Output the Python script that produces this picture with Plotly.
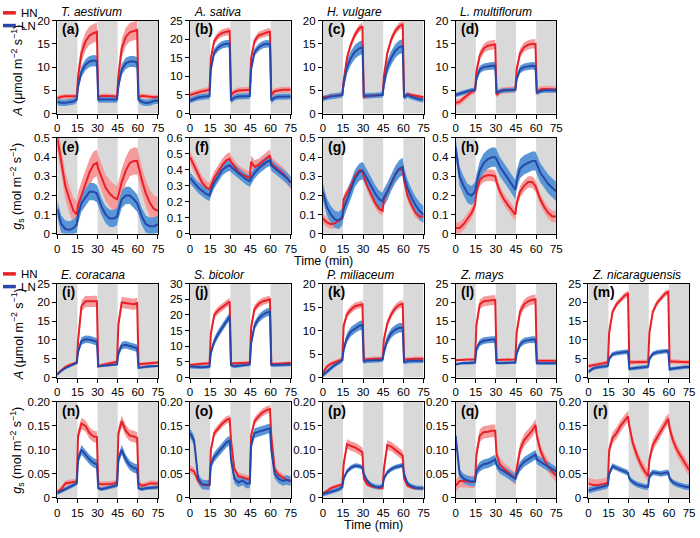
import plotly.graph_objects as go

W, H = 700, 538

# ---------------- data ----------------
T = [0, 3, 6, 9, 12, 14.5, 15.5, 18, 21, 24, 27, 29.5, 30.5, 33, 36, 39, 42, 44.5,
     45.5, 48, 51, 54, 57, 59.5, 60.5, 63, 66, 69, 72, 75]
X_TICKS = [0, 15, 30, 45, 60, 75]
DARK_PERIODS = [(0, 15), (30, 45), (60, 75)]

species_top = ["T. aestivum", "A. sativa", "H. vulgare", "L. multiflorum"]
species_bot = ["E. coracana", "S. bicolor", "P. miliaceum", "Z. mays", "Z. nicaraguensis"]

# (a) T. aestivum, A
a_hn = [3.3, 3.6, 3.7, 3.7, 3.7, 3.7, 8, 13, 15.5, 16.8, 17.3, 17.6, 3.5, 3.8, 3.8, 3.8, 3.7, 3.6,
        8, 14, 16.5, 17.5, 17.8, 18, 3.5, 3.8, 3.7, 3.6, 3.5, 3.6]
a_ln = [2.5, 2.3, 2.3, 2.5, 2.6, 3, 6, 9, 10.5, 11.2, 11.4, 11.3, 3, 3.1, 3, 3, 3, 3,
        6, 9.5, 10.8, 11.2, 11.2, 11, 3, 2.5, 2.3, 2.4, 2.7, 2.8]
a_hn_se = [0.5, 2.0, 0.5, 2.0, 0.5]
a_ln_se = [0.7, 1.2, 0.7, 1.2, 0.7]
# (b) A. sativa, A
b_hn = [5, 5.4, 5.7, 6, 6.2, 6.4, 15, 19.5, 21, 21.7, 22, 22.2, 5, 5.8, 6.2, 6.3, 6.4, 6.4,
        15, 19.5, 21, 21.5, 21.8, 22, 5, 6, 6.3, 6.4, 6.4, 6.4]
b_ln = [3.5, 4, 4.3, 4.5, 4.6, 4.7, 12, 16.5, 17.8, 18.5, 18.8, 18.8, 3.5, 4.3, 4.6, 4.7, 4.7, 4.7,
        12, 16.5, 17.8, 18.5, 18.8, 18.7, 3.5, 4.3, 4.5, 4.6, 4.6, 4.6]
b_hn_se = [0.8, 1.0, 0.8, 1.0, 0.8]
b_ln_se = [0.8, 1.0, 0.8, 1.0, 0.8]
# (c) H. vulgare, A
c_hn = [3.5, 3.6, 3.7, 3.8, 3.9, 4, 7, 12, 15, 17, 18.3, 18.8, 3.5, 3.8, 3.9, 3.9, 4, 4,
        8, 13, 16, 17.8, 18.8, 19.2, 3.5, 4.2, 4, 3.8, 3.6, 3.5]
c_ln = [3.2, 3.5, 3.7, 3.8, 3.9, 4, 6.5, 10, 12, 13.3, 14, 14.3, 3.8, 3.8, 3.9, 3.9, 4, 4,
        6.5, 10, 12, 13.5, 14.3, 14.5, 3.5, 4, 3.6, 3.3, 3.1, 3]
c_hn_se = [0.4, 0.8, 0.4, 0.8, 0.4]
c_ln_se = [0.6, 1.5, 0.6, 1.5, 0.6]
# (d) L. multiflorum, A
d_hn = [2.3, 2.5, 3.3, 4, 4.7, 5, 9, 12.5, 14, 14.6, 14.8, 14.9, 4, 4.8, 5, 5.1, 5.1, 5.2,
        9.5, 13, 14.3, 14.8, 15, 15, 4.5, 5.2, 5.3, 5.3, 5.2, 5.2]
d_ln = [4, 4.3, 4.6, 4.8, 5, 5.1, 7.5, 9.5, 10, 10.2, 10.3, 10.3, 4.5, 4.8, 5, 5, 5.1, 5.1,
        7.5, 9.5, 10, 10.2, 10.3, 10.2, 4.5, 4.8, 5, 5, 5, 5]
d_hn_se = [0.7, 1.0, 0.7, 1.0, 0.7]
d_ln_se = [0.5, 0.8, 0.5, 0.8, 0.5]
# (e) T. aestivum, gs
e_hn = [0.5, 0.38, 0.25, 0.18, 0.12, 0.1, 0.15, 0.2, 0.26, 0.32, 0.36, 0.37, 0.34, 0.29, 0.24, 0.21, 0.19, 0.18,
        0.2, 0.27, 0.33, 0.37, 0.38, 0.38, 0.35, 0.28, 0.21, 0.16, 0.13, 0.12]
e_ln = [0.13, 0.05, 0.025, 0.02, 0.03, 0.05, 0.1, 0.16, 0.19, 0.22, 0.22, 0.21, 0.19, 0.14, 0.1, 0.08, 0.08, 0.09,
        0.12, 0.18, 0.2, 0.2, 0.18, 0.16, 0.14, 0.09, 0.05, 0.04, 0.04, 0.05]
e_hn_se = [0.07, 0.07, 0.07, 0.07, 0.07]
e_ln_se = [0.045, 0.045, 0.045, 0.045, 0.045]
# (f) A. sativa, gs
f_hn = [0.48, 0.43, 0.37, 0.32, 0.29, 0.28, 0.3, 0.35, 0.39, 0.43, 0.46, 0.47, 0.45, 0.42, 0.39, 0.37, 0.36, 0.35,
        0.45, 0.42, 0.43, 0.45, 0.47, 0.49, 0.44, 0.42, 0.4, 0.38, 0.35, 0.32]
f_ln = [0.35, 0.32, 0.29, 0.27, 0.25, 0.24, 0.27, 0.32, 0.36, 0.4, 0.42, 0.43, 0.42, 0.4, 0.38, 0.36, 0.34, 0.33,
        0.35, 0.38, 0.41, 0.43, 0.45, 0.46, 0.43, 0.41, 0.39, 0.37, 0.35, 0.32]
f_hn_se = [0.04, 0.04, 0.04, 0.04, 0.04]
f_ln_se = [0.035, 0.035, 0.035, 0.035, 0.035]
# (g) H. vulgare, gs
g_hn = [0.08, 0.06, 0.05, 0.055, 0.07, 0.08, 0.18, 0.21, 0.25, 0.3, 0.33, 0.33, 0.3, 0.25, 0.2, 0.16, 0.13, 0.12,
        0.18, 0.22, 0.27, 0.31, 0.34, 0.33, 0.28, 0.2, 0.15, 0.11, 0.09, 0.09]
g_ln = [0.22, 0.14, 0.1, 0.075, 0.07, 0.09, 0.13, 0.18, 0.23, 0.29, 0.32, 0.33, 0.32, 0.29, 0.25, 0.21, 0.18, 0.17,
        0.19, 0.22, 0.27, 0.31, 0.34, 0.35, 0.3, 0.24, 0.19, 0.15, 0.12, 0.1]
g_hn_se = [0.025, 0.025, 0.025, 0.025, 0.025]
g_ln_se = [0.045, 0.045, 0.045, 0.045, 0.045]
# (h) L. multiflorum, gs
h_hn = [0.03, 0.03, 0.05, 0.08, 0.11, 0.15, 0.22, 0.28, 0.3, 0.305, 0.305, 0.3, 0.27, 0.22, 0.18, 0.15, 0.12, 0.1,
        0.16, 0.22, 0.25, 0.27, 0.27, 0.25, 0.23, 0.18, 0.14, 0.11, 0.09, 0.09]
h_ln = [0.45, 0.3, 0.25, 0.21, 0.2, 0.22, 0.26, 0.33, 0.37, 0.39, 0.4, 0.4, 0.39, 0.35, 0.32, 0.29, 0.26, 0.23,
        0.28, 0.34, 0.36, 0.37, 0.38, 0.38, 0.36, 0.32, 0.29, 0.26, 0.24, 0.22]
h_hn_se = [0.03, 0.03, 0.03, 0.03, 0.03]
h_ln_se = [0.05, 0.05, 0.05, 0.05, 0.05]
# (i) E. coracana, A
i_hn = [1, 2, 2.8, 3.3, 3.7, 4, 10, 19, 20.3, 20.2, 20.3, 20.3, 3, 3.3, 3.6, 3.8, 4, 4.2,
        14, 20, 19.8, 19.7, 19.5, 19.8, 3.5, 3.6, 3.7, 3.8, 3.9, 4]
i_ln = [0.8, 1.8, 2.5, 3.1, 3.5, 3.9, 7, 9.7, 10.2, 10.1, 9.8, 9.5, 3, 3.1, 3.2, 3.3, 3.4, 3.5,
        6.5, 8.5, 8.7, 8.4, 8, 7.8, 2.6, 2.8, 2.9, 3, 3, 3.1]
i_hn_se = [0.5, 1.5, 0.5, 1.5, 0.5]
i_ln_se = [0.3, 1.0, 0.3, 1.0, 0.3]
# (j) S. bicolor, A
j_hn = [4, 4.2, 4.3, 4.4, 4.5, 4.6, 14, 20, 21.5, 22.5, 23.5, 24.3, 4.5, 4.5, 4.5, 4.6, 4.7, 4.8,
        16, 22, 23.5, 24.3, 24.8, 25, 4.3, 4.3, 4.4, 4.5, 4.6, 4.7]
j_ln = [3.5, 3.4, 3.3, 3.3, 3.4, 3.5, 8, 11.5, 14, 16, 18, 19.5, 4, 3.6, 3.8, 4, 4.1, 4.2,
        11, 16.5, 18.8, 20, 20.8, 21, 4, 4, 4, 4.1, 4.1, 4.2]
j_hn_se = [0.5, 1.2, 0.5, 1.2, 0.5]
j_ln_se = [0.6, 1.3, 0.6, 1.3, 0.6]
# (k) P. miliaceum, A
k_hn = [1, 2.3, 2.9, 3.3, 3.6, 3.8, 11, 13.5, 14.5, 15.2, 15.5, 15.6, 3.8, 3.9, 4, 4, 4, 4,
        8, 11.5, 13.5, 14.8, 15.5, 15.7, 3.8, 3.9, 4, 4, 4, 4]
k_ln = [0.5, 1.3, 2, 2.7, 3.2, 3.7, 6, 8.5, 9.8, 10.5, 11, 11.2, 3.4, 3.6, 3.7, 3.7, 3.7, 3.8,
        5.5, 8, 9.5, 10.2, 10.6, 10.6, 3.3, 3.5, 3.6, 3.6, 3.6, 3.6]
k_hn_se = [0.5, 0.8, 0.5, 0.8, 0.5]
k_ln_se = [0.5, 1.0, 0.5, 1.0, 0.5]
# (l) Z. mays, A
l_hn = [4.6, 4.7, 4.8, 4.8, 4.8, 4.8, 14, 19.5, 20.3, 20.5, 20.6, 20.7, 4.7, 4.7, 4.8, 4.8, 4.8, 4.8,
        12, 17.5, 19.5, 20.3, 20.7, 20.8, 4.5, 4.5, 4.5, 4.5, 4.5, 4.5]
l_ln = [3.5, 3.8, 3.9, 3.9, 3.9, 4, 7.5, 9.3, 9.8, 10, 10.1, 10.1, 3.9, 3.9, 3.9, 3.9, 4, 4,
        6.5, 8.8, 9.7, 10, 10.1, 10.1, 3.8, 3.8, 3.8, 3.8, 3.8, 3.8]
l_hn_se = [0.3, 1.3, 0.3, 1.3, 0.3]
l_ln_se = [0.4, 0.9, 0.4, 0.9, 0.4]
# (m) Z. nicaraguensis, A
m_hn = [3, 3.2, 3.4, 3.6, 3.8, 4, 12, 17.5, 19.5, 20.8, 21.8, 22.3, 4, 4.1, 4.1, 4.2, 4.2, 4.2,
        12, 17.5, 19.8, 21.2, 22.3, 22.8, 4.3, 4.3, 4.2, 4.1, 4.1, 4.1]
m_ln = [1.5, 2.3, 2.7, 2.9, 3, 3.1, 5, 6.2, 6.5, 6.7, 6.8, 6.9, 2.3, 2.5, 2.6, 2.7, 2.8, 2.9,
        5, 6.3, 6.7, 6.9, 7, 7, 2.2, 2.4, 2.6, 2.7, 2.8, 2.8]
m_hn_se = [0.6, 0.8, 0.6, 0.8, 0.6]
m_ln_se = [0.5, 0.6, 0.5, 0.6, 0.5]
# (n) E. coracana, gs
n_hn = [0.012, 0.018, 0.03, 0.032, 0.033, 0.034, 0.13, 0.155, 0.15, 0.135, 0.128, 0.127, 0.03, 0.028, 0.028, 0.029, 0.03, 0.033,
        0.135, 0.16, 0.14, 0.13, 0.128, 0.125, 0.03, 0.025, 0.027, 0.03, 0.03, 0.03]
n_ln = [0.01, 0.014, 0.018, 0.022, 0.026, 0.03, 0.08, 0.1, 0.09, 0.08, 0.073, 0.07, 0.02, 0.018, 0.02, 0.022, 0.024, 0.026,
        0.08, 0.1, 0.08, 0.068, 0.062, 0.06, 0.02, 0.018, 0.02, 0.021, 0.022, 0.022]
n_hn_se = [0.006, 0.012, 0.006, 0.012, 0.006]
n_ln_se = [0.004, 0.01, 0.004, 0.01, 0.004]
# (o) S. bicolor, gs
o_hn = [0.06, 0.055, 0.035, 0.027, 0.026, 0.026, 0.1, 0.135, 0.145, 0.155, 0.162, 0.165, 0.12, 0.06, 0.045, 0.042, 0.04, 0.038,
        0.13, 0.16, 0.17, 0.178, 0.183, 0.185, 0.13, 0.06, 0.048, 0.042, 0.038, 0.035]
o_ln = [0.135, 0.12, 0.04, 0.028, 0.027, 0.027, 0.07, 0.085, 0.095, 0.105, 0.115, 0.12, 0.08, 0.04, 0.032, 0.036, 0.03, 0.03,
        0.11, 0.135, 0.138, 0.14, 0.143, 0.145, 0.1, 0.05, 0.04, 0.035, 0.037, 0.035]
o_hn_se = [0.008, 0.008, 0.008, 0.008, 0.008]
o_ln_se = [0.01, 0.01, 0.01, 0.01, 0.01]
# (p) P. miliaceum, gs
p_hn = [0.008, 0.015, 0.02, 0.023, 0.026, 0.028, 0.07, 0.112, 0.108, 0.105, 0.1, 0.095, 0.04, 0.028, 0.024, 0.022, 0.021, 0.02,
        0.06, 0.11, 0.107, 0.1, 0.094, 0.088, 0.04, 0.025, 0.022, 0.02, 0.02, 0.02]
p_ln = [0.008, 0.01, 0.012, 0.015, 0.018, 0.022, 0.04, 0.055, 0.063, 0.067, 0.066, 0.063, 0.05, 0.035, 0.027, 0.023, 0.022, 0.024,
        0.04, 0.053, 0.06, 0.064, 0.066, 0.068, 0.05, 0.03, 0.024, 0.021, 0.02, 0.02]
p_hn_se = [0.004, 0.01, 0.004, 0.01, 0.004]
p_ln_se = [0.005, 0.005, 0.005, 0.005, 0.005]
# (q) Z. mays, gs
q_hn = [0.025, 0.035, 0.035, 0.034, 0.033, 0.034, 0.09, 0.13, 0.137, 0.138, 0.14, 0.14, 0.09, 0.07, 0.06, 0.053, 0.046, 0.04,
        0.06, 0.1, 0.12, 0.13, 0.14, 0.152, 0.13, 0.1, 0.08, 0.065, 0.055, 0.045]
q_ln = [0.13, 0.05, 0.04, 0.036, 0.034, 0.034, 0.055, 0.065, 0.07, 0.072, 0.076, 0.08, 0.07, 0.06, 0.055, 0.05, 0.045, 0.04,
        0.05, 0.065, 0.075, 0.08, 0.085, 0.09, 0.08, 0.075, 0.07, 0.065, 0.06, 0.055]
q_hn_se = [0.013, 0.013, 0.013, 0.013, 0.013]
q_ln_se = [0.01, 0.01, 0.01, 0.01, 0.01]
# (r) Z. nicaraguensis, gs
r_hn = [0.03, 0.027, 0.026, 0.027, 0.029, 0.032, 0.1, 0.125, 0.135, 0.15, 0.162, 0.17, 0.15, 0.115, 0.09, 0.07, 0.055, 0.045,
        0.08, 0.11, 0.125, 0.14, 0.155, 0.165, 0.145, 0.12, 0.1, 0.085, 0.07, 0.058]
r_ln = [0.015, 0.018, 0.02, 0.022, 0.024, 0.026, 0.05, 0.066, 0.062, 0.058, 0.055, 0.052, 0.04, 0.033, 0.028, 0.025, 0.023, 0.023,
        0.045, 0.053, 0.052, 0.05, 0.052, 0.053, 0.04, 0.032, 0.028, 0.025, 0.023, 0.022]
r_hn_se = [0.012, 0.012, 0.012, 0.012, 0.012]
r_ln_se = [0.006, 0.006, 0.006, 0.006, 0.006]

A_TICKS = {20: [0, 5, 10, 15, 20], 25: [0, 5, 10, 15, 20, 25], 30: [0, 5, 10, 15, 20, 25, 30]}
GS1_TICKS = {0.5: [0, 0.1, 0.2, 0.3, 0.4, 0.5], 0.6: [0, 0.1, 0.2, 0.3, 0.4, 0.5, 0.6]}
GS2_TICKS = [0, 0.05, 0.10, 0.15, 0.20]
GS2_LABELS = ["0", "0.05", "0.10", "0.15", "0.20"]

# ---------------- layout geometry (pixels) ----------------
COL_LEFT = [55, 189.5, 324, 458.5, 593]
PANEL_W = 102
ROWS = [(15, 110), (135, 233), (284, 380), (405, 503)]

HN_LINE = "rgb(232,32,40)"
HN_BAND = "rgb(245,155,155)"
LN_LINE = "rgb(40,72,168)"
LN_BAND = "rgb(88,150,215)"
SHADE = "rgb(217,217,217)"
FONT = "Liberation Sans, Arial, sans-serif"

panels = [
    ("a", 0, 0, a_hn, a_ln, a_hn_se, a_ln_se, 20, "A"),
    ("b", 0, 1, b_hn, b_ln, b_hn_se, b_ln_se, 25, "A"),
    ("c", 0, 2, c_hn, c_ln, c_hn_se, c_ln_se, 20, "A"),
    ("d", 0, 3, d_hn, d_ln, d_hn_se, d_ln_se, 20, "A"),
    ("e", 1, 0, e_hn, e_ln, e_hn_se, e_ln_se, 0.5, "G1"),
    ("f", 1, 1, f_hn, f_ln, f_hn_se, f_ln_se, 0.6, "G1"),
    ("g", 1, 2, g_hn, g_ln, g_hn_se, g_ln_se, 0.5, "G1"),
    ("h", 1, 3, h_hn, h_ln, h_hn_se, h_ln_se, 0.5, "G1"),
    ("i", 2, 0, i_hn, i_ln, i_hn_se, i_ln_se, 25, "A"),
    ("j", 2, 1, j_hn, j_ln, j_hn_se, j_ln_se, 30, "A"),
    ("k", 2, 2, k_hn, k_ln, k_hn_se, k_ln_se, 20, "A"),
    ("l", 2, 3, l_hn, l_ln, l_hn_se, l_ln_se, 25, "A"),
    ("m", 2, 4, m_hn, m_ln, m_hn_se, m_ln_se, 25, "A"),
    ("n", 3, 0, n_hn, n_ln, n_hn_se, n_ln_se, 0.2, "G2"),
    ("o", 3, 1, o_hn, o_ln, o_hn_se, o_ln_se, 0.2, "G2"),
    ("p", 3, 2, p_hn, p_ln, p_hn_se, p_ln_se, 0.2, "G2"),
    ("q", 3, 3, q_hn, q_ln, q_hn_se, q_ln_se, 0.2, "G2"),
    ("r", 3, 4, r_hn, r_ln, r_hn_se, r_ln_se, 0.2, "G2"),
]


def phase_err(se):
    return [se[min(int(t // 15), 4)] for t in T]


fig = go.Figure()
layout = dict(width=W, height=H, margin=dict(l=0, r=0, t=0, b=0),
              paper_bgcolor="white", plot_bgcolor="white", showlegend=False,
              font=dict(family=FONT, size=11, color="black"))
shapes = []
annotations = []

for idx, (letter, row, col, hn, ln, hn_se, ln_se, ymax, kind) in enumerate(panels):
    n = idx + 1
    xa = "x" if n == 1 else f"x{n}"
    ya = "y" if n == 1 else f"y{n}"
    xkey = "xaxis" if n == 1 else f"xaxis{n}"
    ykey = "yaxis" if n == 1 else f"yaxis{n}"
    left = COL_LEFT[col]
    top, bot = ROWS[row]
    xdom = [left / W, (left + PANEL_W) / W]
    ydom = [1 - bot / H, 1 - top / H]

    if kind == "A":
        tv = A_TICKS[ymax]
        tt = [str(v) for v in tv]
    elif kind == "G1":
        tv = GS1_TICKS[ymax]
        tt = ["0"] + [f"{v:.1f}" for v in tv[1:]]
    else:
        tv = GS2_TICKS
        tt = GS2_LABELS

    layout[xkey] = dict(domain=xdom, anchor=ya, range=[0, 75], tickvals=X_TICKS,
                        ticks="outside", ticklen=4, tickwidth=1, tickcolor="black",
                        showline=True, linecolor="black", linewidth=1, mirror=True,
                        showgrid=False, zeroline=False, fixedrange=True,
                        tickfont=dict(size=11.5, family=FONT))
    layout[ykey] = dict(domain=ydom, anchor=xa, range=[0, ymax], tickvals=tv, ticktext=tt,
                        ticks="outside", ticklen=4, tickwidth=1, tickcolor="black",
                        showline=True, linecolor="black", linewidth=1, mirror=True,
                        showgrid=False, zeroline=False, fixedrange=True,
                        tickfont=dict(size=11.5, family=FONT))

    for (d0, d1) in DARK_PERIODS:
        shapes.append(dict(type="rect", xref=xa, yref=f"{ya} domain", x0=d0, x1=d1, y0=0, y1=1,
                           fillcolor=SHADE, line=dict(width=0), layer="below"))

    for vals, se, band in ((hn, hn_se, HN_BAND), (ln, ln_se, LN_BAND)):
        err = phase_err(se)
        upper = [v + e for v, e in zip(vals, err)]
        lower = [max(v - e, 0) for v, e in zip(vals, err)]
        fig.add_trace(go.Scatter(x=T + T[::-1], y=upper + lower[::-1], xaxis=xa, yaxis=ya,
                                 mode="lines", fill="toself", fillcolor=band,
                                 line=dict(width=0, color=band), hoverinfo="skip"))
    fig.add_trace(go.Scatter(x=T, y=hn, xaxis=xa, yaxis=ya, mode="lines", name="HN",
                             line=dict(color=HN_LINE, width=2)))
    fig.add_trace(go.Scatter(x=T, y=ln, xaxis=xa, yaxis=ya, mode="lines", name="LN",
                             line=dict(color=LN_LINE, width=2)))

    annotations.append(dict(text=f"<b>({letter})</b>", xref="paper", yref="paper",
                            x=(left + 3) / W, y=1 - (top + 9) / H, xanchor="left", yanchor="middle",
                            showarrow=False, font=dict(size=14, family=FONT)))
    if row in (0, 2):
        sp = (species_top if row == 0 else species_bot)[col]
        annotations.append(dict(text=f"<i>{sp}</i>", xref="paper", yref="paper",
                                x=(left + 2) / W, y=1 - (top - 9) / H, xanchor="left", yanchor="middle",
                                showarrow=False, font=dict(size=12, family=FONT)))

# y-axis titles
A_TITLE = "<i>A</i> (μmol m<sup>−2</sup> s<sup>−1</sup>)"
G_TITLE = "<i>g</i><sub>s</sub> (mol m<sup>−2</sup> s<sup>−1</sup>)"
for (top, bot), title, dy in zip(ROWS, [A_TITLE, G_TITLE, A_TITLE, G_TITLE], [4, 0, 4, 0]):
    annotations.append(dict(text=title, xref="paper", yref="paper", x=14 / W,
                            y=1 - ((top + bot) / 2 + dy) / H,
                            xanchor="center", yanchor="middle", textangle=-90, showarrow=False,
                            font=dict(size=12.5, family=FONT)))

# x-axis titles
for xc, yc in ((325, 261), (375, 531)):
    annotations.append(dict(text="Time (min)", xref="paper", yref="paper", x=xc / W, y=1 - yc / H,
                            xanchor="center", yanchor="middle", showarrow=False,
                            font=dict(size=12.5, family=FONT)))

# legends
for y_hn, y_ln in ((7, 20), (274, 287)):
    for yy, color, label in ((y_hn, HN_LINE, "HN"), (y_ln, LN_LINE, "LN")):
        shapes.append(dict(type="line", xref="paper", yref="paper", x0=0, x1=13 / W,
                           y0=1 - yy / H, y1=1 - yy / H, line=dict(color=color, width=3.5)))
        annotations.append(dict(text=label, xref="paper", yref="paper", x=16 / W, y=1 - yy / H,
                                xanchor="left", yanchor="middle", showarrow=False,
                                font=dict(size=11.5, family=FONT)))

layout["shapes"] = shapes
layout["annotations"] = annotations
fig.update_layout(**layout)
fig.write_html("out.html", config={"displayModeBar": False},
               post_script="document.body.style.margin='0px';document.body.style.padding='0px';")
